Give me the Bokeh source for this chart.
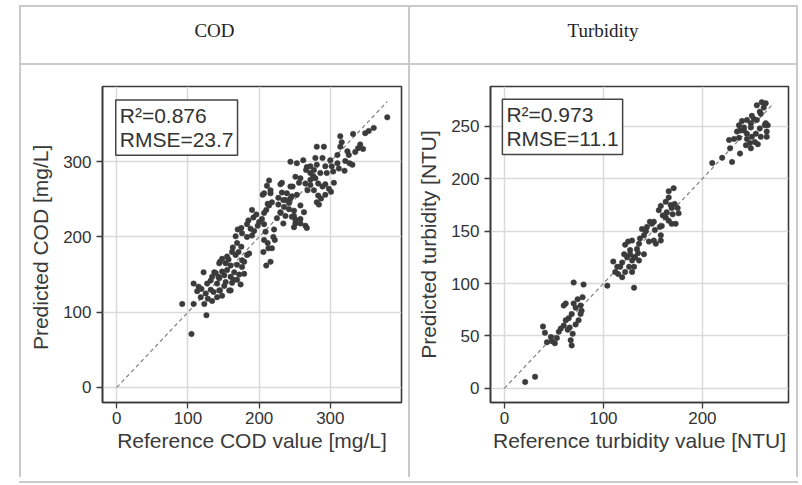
from bokeh.plotting import figure
from bokeh.models import Div, Label, FixedTicker, Range1d
from bokeh.layouts import row, column
from bokeh.embed import file_html
from bokeh.resources import INLINE

# ---------------- data ----------------
panel_titles = ["COD", "Turbidity"]

cod_reference = [105, 92, 108, 126, 123, 128, 134, 108, 119, 122, 132, 137, 141, 145, 141, 148, 143, 151, 153, 158,
                 145, 155, 160, 165, 162, 169, 174, 167, 171, 176, 176, 179, 169, 167, 176, 175, 183, 183, 192, 188,
                 198, 204, 190, 207, 212, 207, 216, 212, 206, 210, 213, 222, 118, 125, 127, 132, 134, 139, 144, 148,
                 155, 160, 164, 151, 136, 144, 160, 148, 144, 153, 162, 157, 169, 179, 186, 172, 183, 193, 163, 200,
                 196, 185, 190, 175, 170, 209, 207, 216, 218, 220, 115, 113,
                 214, 211, 216, 205, 214, 218, 230, 232, 247, 253, 244, 237, 235, 242, 249, 258, 263, 230, 237, 249,
                 258, 251, 265, 210, 207, 221, 244, 253, 262, 267, 258, 251, 265, 244, 256, 239, 246, 232, 227, 234,
                 242, 227, 230, 225, 234, 246, 251, 258, 249, 267,
                 272, 266, 279, 289, 281, 291, 281, 272, 286, 295, 312, 279, 283, 272, 277, 289, 298, 293, 283, 281,
                 287, 300, 302, 293, 310, 314, 321, 327, 326, 335, 339, 346, 342, 314, 332, 349, 354, 361, 380, 304,
                 310, 320, 331, 293, 301, 305, 284, 272, 268, 277, 276, 324, 316]
cod_predicted = [71, 111, 111, 96, 111, 118, 115, 138, 131, 153, 142, 153, 138, 129, 120, 122, 147, 149, 140, 129,
                 167, 174, 162, 153, 139, 143, 137, 176, 180, 169, 160, 151, 192, 201, 205, 187, 176, 217, 226, 211,
                 215, 224, 202, 232, 244, 258, 258, 192, 180, 162, 185, 196, 120, 125, 138, 130, 147, 152, 145, 154,
                 156, 147, 143, 135, 127, 129, 129, 171, 165, 165, 180, 170, 163, 167, 178, 150, 200, 208, 186, 220,
                 230, 222, 236, 212, 210, 207, 196, 167, 185, 200, 134, 128,
                 275, 268, 262, 256, 242, 246, 270, 259, 267, 256, 251, 249, 240, 237, 235, 242, 233, 233, 228, 228,
                 224, 218, 215, 236, 217, 210, 300, 298, 302, 293, 278, 280, 271, 267, 272, 258, 254, 272, 252, 249,
                 245, 243, 232, 225, 218, 227, 223, 218, 213, 212,
                 294, 289, 305, 305, 320, 320, 296, 285, 285, 285, 291, 278, 271, 269, 262, 267, 264, 256, 255, 246,
                 251, 302, 294, 294, 309, 320, 301, 298, 309, 313, 318, 317, 323, 334, 337, 338, 341, 345, 359, 287,
                 298, 288, 296, 270, 260, 272, 243, 276, 262, 289, 281, 314, 326]

turb_reference = [21, 31, 39, 41, 43, 48, 51, 47, 55, 57, 60, 62, 65, 68, 72, 60, 62, 70, 67, 68,
                  72, 75, 77, 77, 79, 78, 66, 69, 70, 80, 104, 131, 53, 64, 74,
                  110, 114, 119, 122, 112, 124, 129, 132, 131, 122, 125, 129, 134, 137, 141, 144, 147, 151, 139,
                  146, 151, 158, 159, 163, 166, 156, 158, 163, 169, 172, 176, 170, 169, 166, 171,
                  117, 121, 127, 136, 131, 136, 141, 152, 157, 149, 153, 158, 164, 168, 173, 115, 126, 129, 119,
                  127, 135, 143, 160, 175, 166,
                  210, 220, 230, 228, 238, 249, 227, 232, 237, 235, 237, 242, 245, 250, 253, 256, 249, 252, 250,
                  258, 263, 266, 265, 258, 255, 260, 264, 259, 255, 245, 240, 264, 265, 259, 254, 249, 245, 242,
                  238, 262, 248, 244]
turb_predicted = [6, 11, 59, 53, 44, 45, 43, 49, 54, 57, 60, 65, 67, 71, 77, 79, 81, 81, 46, 41,
                  61, 65, 71, 79, 87, 74, 58, 52, 101, 99, 98, 96, 48, 56, 85,
                  121, 116, 106, 111, 111, 125, 122, 125, 116, 137, 140, 141, 133, 143, 146, 154, 159, 159, 152,
                  140, 141, 146, 155, 163, 160, 170, 174, 178, 172, 176, 167, 166, 157, 188, 191,
                  116, 128, 132, 138, 125, 122, 128, 151, 154, 157, 138, 141, 168, 175, 157, 109, 116, 111, 120,
                  128, 129, 150, 165, 172, 182,
                  215, 220, 216, 229, 224, 229, 237, 238, 239, 245, 251, 246, 238, 240, 235, 233, 253, 257, 260,
                  248, 251, 251, 240, 264, 270, 273, 272, 262, 256, 256, 255, 253, 245, 240, 243, 249, 243, 249,
                  246, 268, 234, 232]

cod_identity = [0, 380]
turb_identity = [0, 272]

cod_stats = "R\u00b2=0.876\nRMSE=23.7"
turb_stats = "R\u00b2=0.973\nRMSE=11.1"

cod_x_ticks = [0, 100, 200, 300]
cod_y_ticks = [0, 100, 200, 300]
turb_x_ticks = [0, 100, 200]
turb_y_ticks = [0, 50, 100, 150, 200, 250]

LINE = "#cacaca"
SANS = "Liberation Sans"
DARK = "#3a3a3a"


def panel(width, ml, mr, xr, yr, xt, yt, xs, ys, ident, xlab, ylab, stats, box_xy):
    p = figure(width=width, height=411, x_range=Range1d(*xr), y_range=Range1d(*yr),
               output_backend="svg", toolbar_location=None,
               min_border_left=ml, min_border_right=mr, min_border_top=20, min_border_bottom=75)
    p.background_fill_color = "white"
    p.border_fill_color = "white"
    p.outline_line_color = DARK
    p.outline_line_width = 1.6
    p.grid.grid_line_color = "#dadada"
    p.grid.grid_line_width = 1.5
    p.xaxis.ticker = FixedTicker(ticks=xt)
    p.yaxis.ticker = FixedTicker(ticks=yt)
    for ax in (p.xaxis, p.yaxis):
        ax.axis_line_color = DARK
        ax.axis_line_width = 1.6
        ax.major_tick_line_color = DARK
        ax.major_tick_line_width = 1.3
        ax.major_tick_out = 6
        ax.major_tick_in = 0
        ax.minor_tick_line_color = None
        ax.major_label_text_font = SANS
        ax.major_label_text_font_size = "17px"
        ax.major_label_text_color = "#333333"
        ax.axis_label_text_font = SANS
        ax.axis_label_text_font_size = "21px"
        ax.axis_label_text_font_style = "normal"
        ax.axis_label_text_color = "#3a3a3a"
    p.xaxis.axis_label = xlab
    p.yaxis.axis_label = ylab
    p.xaxis.major_label_standoff = 3
    p.xaxis.axis_label_standoff = 2
    p.yaxis.major_label_standoff = 5
    p.yaxis.axis_label_standoff = 8

    p.line(ident, ident, line_dash="4 3", line_color="#808080", line_width=1.2)
    p.scatter(xs, ys, size=5.5, fill_color="#3b3b3b", line_color="#3b3b3b", line_width=0.5)

    lab = Label(x=box_xy[0], y=box_xy[1], text=stats, text_align="left", text_baseline="top",
                text_font=SANS, text_font_size="21px", text_color="#333333", text_line_height=1.05,
                border_line_color="#444444", border_line_width=1.5, background_fill_color="white",
                padding=4)
    p.add_layout(lab)
    return p


p1 = panel(387, 81, 7, (-20, 400), (-20, 400), cod_x_ticks, cod_y_ticks, cod_reference, cod_predicted,
           cod_identity, "Reference COD value [mg/L]", "Predicted COD  [mg/L]", cod_stats, (-1.4, 382))
p2 = panel(386, 80, 8, (-14, 287), (-13.5, 288), turb_x_ticks, turb_y_ticks, turb_reference, turb_predicted,
           turb_identity, "Reference turbidity value [NTU]", "Predicted turbidity [NTU]", turb_stats, (-2, 275.8))


def bar(l, t, w, h):
    return (f'<div style="position:absolute;left:{l}px;top:{t}px;width:{w}px;height:{h}px;'
            f'background:{LINE}"></div>')


def cell_text(l, w, txt):
    return (f'<div style="position:absolute;left:{l}px;top:7px;width:{w}px;height:48px;display:flex;'
            f'align-items:center;justify-content:center;font-family:\'Liberation Serif\';font-size:19px;'
            f'color:#222">{txt}</div>')


header_html = ('<div style="position:relative;width:802px;height:66px;">'
               + bar(19, 5, 779, 2) + bar(19, 63, 779, 2)
               + bar(19, 5, 2, 61) + bar(408, 5, 2, 61) + bar(796, 5, 2, 61)
               + cell_text(21, 387, panel_titles[0]) + cell_text(410, 386, panel_titles[1])
               + '</div>')
header = Div(text=header_html, width=802, height=66, margin=0)

left_html = '<div style="position:relative;width:21px;height:411px;">' + bar(19, 0, 2, 411) + '</div>'
left_edge = Div(text=left_html, width=21, height=411, margin=0)
mid_html = '<div style="position:relative;width:2px;height:411px;">' + bar(0, 0, 2, 411) + '</div>'
mid_edge = Div(text=mid_html, width=2, height=411, margin=0)
right_html = '<div style="position:relative;width:6px;height:411px;">' + bar(0, 0, 2, 411) + '</div>'
right_edge = Div(text=right_html, width=6, height=411, margin=0)
bottom_html = '<div style="position:relative;width:802px;height:8px;">' + bar(19, 0, 779, 2) + '</div>'
bottom = Div(text=bottom_html, width=802, height=8, margin=0)

layout = column(header, row(left_edge, p1, mid_edge, p2, right_edge, spacing=0), bottom, spacing=0)

open("out.html", "w").write(file_html(layout, INLINE))
